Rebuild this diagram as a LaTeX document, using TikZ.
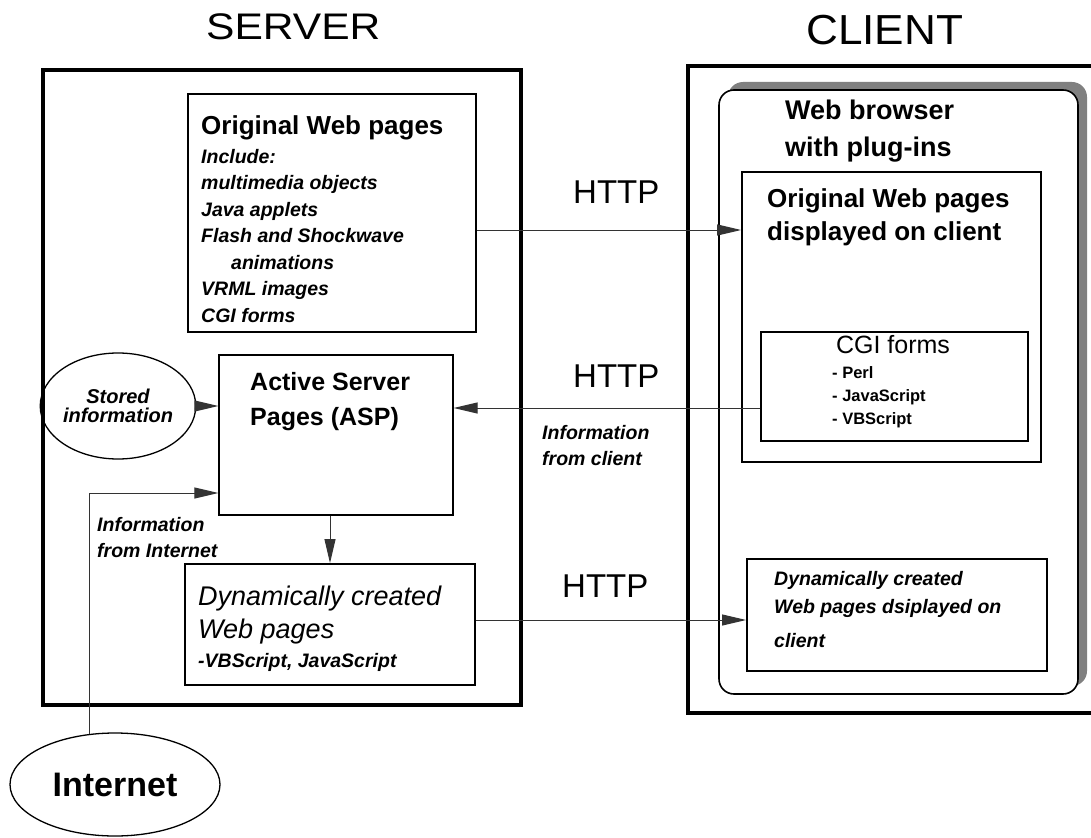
\documentclass[tikz,border=0pt]{standalone}
\usepackage{fontspec}
\setmainfont{Liberation Sans}
\usetikzlibrary{arrows.meta,shapes.geometric,shadows}
\newcommand\myfs[2]{\fontsize{#1}{#2}\selectfont}
\begin{document}
\begin{tikzpicture}[x=1pt,y=-1pt,
  outerbox/.style={draw, line width=3.6pt, inner sep=0pt},
  box/.style={draw, line width=1.8pt, inner sep=0pt},
  thinbox/.style={draw, line width=1.2pt, inner sep=0pt},
  arr/.style={draw=black!80, line width=1pt, -{Triangle[length=24pt,width=11pt]}},
  txt/.style={anchor=base west, inner sep=0pt, align=left},
  ctxt/.style={anchor=base, inner sep=0pt, align=center},
  bi/.style={font={\myfs{19.5}{26.5}\bfseries\itshape}},
]
\useasboundingbox (0,0) rectangle (1091,837);

% titles (multi-line text nodes are placed by the baseline of their last line)
\node[txt, font={\myfs{37}{40}}] (servert) at (206,40) {\scalebox{1.15}[1]{SERVER}};
\node[txt, font={\myfs{42}{45}}] (clientt) at (806,45) {\scalebox{1.05}[1]{CLIENT}};

% outer boxes
\node[outerbox, minimum width=478pt, minimum height=635pt] (server) at (282,387.5) {};
\node[outerbox, minimum width=417pt, minimum height=647pt] (client) at (896.5,389.5) {};

% browser with shadow
\node[box, line width=1.6pt, rounded corners=15pt, fill=white,
  general shadow={fill=black!50, shadow xshift=9pt, shadow yshift=8pt},
  minimum width=359pt, minimum height=604pt] (browser) at (898.5,392) {};
\node[txt, font={\myfs{27}{37}\bfseries}] (browsert) at (785,157) {Web browser\\with plug-ins};

% server boxes
\node[box, minimum width=288pt, minimum height=238pt] (sorig) at (332,213) {};
\node[txt, font={\myfs{26}{30}\bfseries}] (sorigt) at (201,135) {Original Web pages};
\node[txt, bi] (sorigl) at (201,322) {Include:\\multimedia objects\\Java applets\\Flash and Shockwave\\\hspace*{30pt}animations\\VRML images\\CGI forms};

\node[thinbox, minimum width=234pt, minimum height=160pt] (asp) at (336,435) {};
\node[txt, font={\myfs{25}{35}\bfseries}] (aspt) at (250,425) {Active Server\\Pages (ASP)};

\node[box, minimum width=290pt, minimum height=121pt] (dyn) at (330,624.5) {};
\node[txt, font={\myfs{27}{33}\itshape}] (dynt) at (198,638) {Dynamically created\\Web pages};
\node[txt, bi] (dynl) at (198,667) {-VBScript, JavaScript};

\node[draw, line width=1.3pt, ellipse, minimum width=128pt, minimum height=106pt, inner sep=0pt,
  font={\myfs{20}{19}\bfseries\itshape}, align=center] (stored) at (118,406) {Stored\\information};

\node[draw, line width=1.3pt, ellipse, minimum width=210pt, minimum height=103pt, inner sep=0pt,
  font={\myfs{34}{38}\bfseries}] (internet) at (115,784.5) {Internet};

\node[txt, font={\myfs{19.5}{26}\bfseries\itshape}] (infoint) at (97,557) {Information\\from Internet};

% client boxes
\node[box, minimum width=299pt, minimum height=290pt] (corig) at (891.5,317) {};
\node[txt, font={\myfs{26}{33}\bfseries}] (corigt) at (767,240) {Original Web pages\\displayed on client};

\node[thinbox, minimum width=267pt, minimum height=109pt] (cgi) at (894.5,386.5) {};
\node[ctxt, font={\myfs{25}{28}}] (cgit) at (893,353) {CGI forms};
\node[txt, font={\myfs{16.5}{23}\bfseries}] (cgil) at (832,424) {- Perl\\- JavaScript\\- VBScript};

\node[box, minimum width=300pt, minimum height=112pt] (cdyn) at (897,615) {};
\node[txt, font={\myfs{19.5}{28}\bfseries\itshape}] (cdynt) at (774,613) {Dynamically created\\Web pages dsiplayed on};
\node[txt, bi] (cdynl) at (774,647) {client};

% HTTP labels
\node[txt, font={\myfs{33}{36}}] (http1) at (573,204) {HTTP};
\node[txt, font={\myfs{33}{36}}] (http2) at (573,387) {HTTP};
\node[txt, font={\myfs{33}{36}}] (http3) at (562,597) {HTTP};
\node[txt, font={\myfs{19.5}{26}\bfseries\itshape}] (infocl) at (542,465) {Information\\from client};

% connector levels
\coordinate (h1) at (0,230);
\coordinate (h2) at (0,408);
\coordinate (h3) at (0,620);
\coordinate (hi) at (0,493);

% connectors
\draw[arr] (sorig.east |- h1) -- (corig.west |- h1);
\draw[arr] (cgi.west |- h2) -- (asp.east |- h2);
\draw[arr] (stored.east) -- (asp.west |- stored.east);
\draw[arr] (internet.117) |- (asp.west |- hi);
\draw[arr] (asp.south -| dyn.north) -- (dyn.north);
\draw[arr] (dyn.east |- h3) -- (cdyn.west |- h3);
\end{tikzpicture}
\end{document}
